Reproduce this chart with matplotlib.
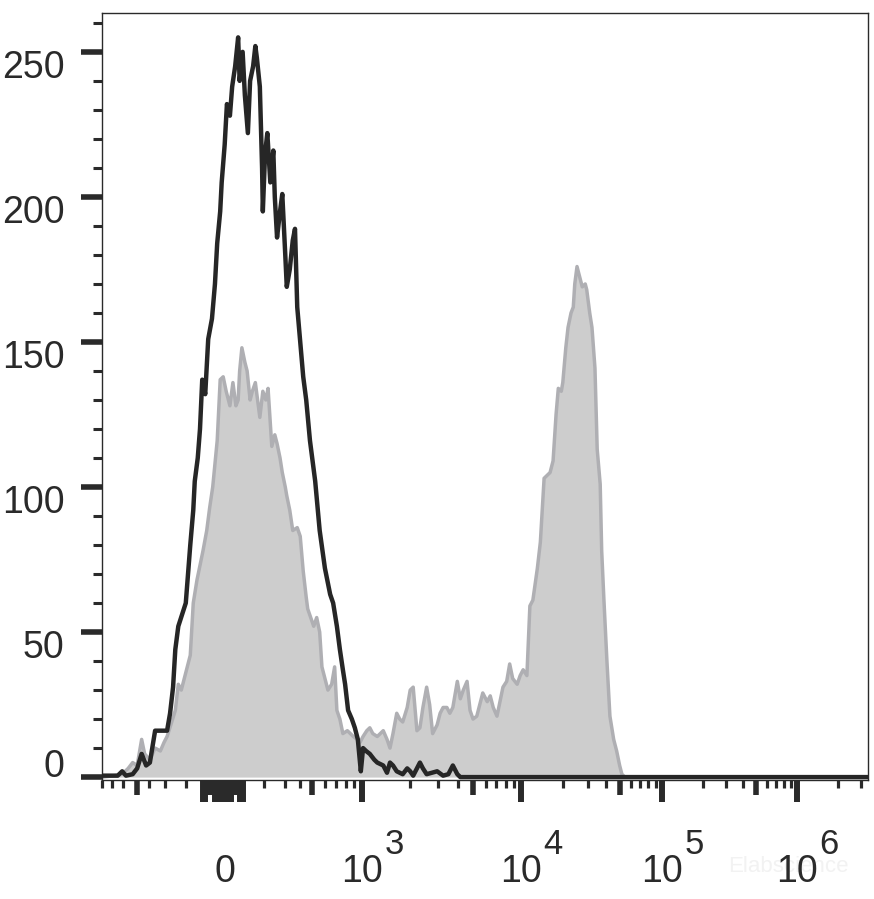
import matplotlib
matplotlib.use('Agg')
import matplotlib.pyplot as plt
import numpy as np

plt.rcParams['font.family'] = ['Liberation Sans', 'DejaVu Sans']

# Histograms: display channel (0..1024 across the axis) and event count
# control (black outline)
ctrl_channel = [0, 11, 21, 27, 32, 41, 47, 53, 59, 64, 71, 82, 87, 91, 95, 98, 102, 107, 112, 118,
                122, 124, 128, 131, 134, 138, 142, 147, 151, 154, 158, 160, 164, 167, 171, 174, 178,
                182, 184, 188, 191, 195, 198, 202, 205, 207, 211, 214, 215, 218, 221, 225, 229, 231,
                234, 238, 241, 245, 247, 251, 255, 258, 261, 265, 269, 273, 278, 285, 291, 298, 305,
                309, 314, 318, 322, 325, 329, 334, 338, 342, 346, 349, 353, 358, 364, 368, 376, 381,
                385, 389, 394, 398, 402, 408, 412, 416, 421, 425, 429, 434, 441, 448, 456, 463, 469,
                475, 479, 1024]
ctrl_count = [0.5, 0.5, 0.5, 2, 0.5, 1, 3, 8, 4, 5, 16, 16, 16, 22, 31, 44, 52, 56, 60, 80,
              92, 102, 110, 120, 137, 132, 151, 158, 170, 184, 195, 205, 218, 232, 228, 238, 245,
              255, 240, 250, 235, 222, 240, 245, 252, 248, 238, 210, 195, 215, 222, 205, 216, 200,
              186, 195, 201, 180, 169, 175, 185, 189, 162, 150, 138, 130, 116, 102, 85, 72, 63,
              60, 52, 44, 37, 32, 23, 20, 17, 13, 2, 10, 9, 8, 6, 5, 4, 1.5,
              5, 4, 2, 1.5, 1, 3, 2, 0.5, 3, 5, 3, 1, 1.5, 2, 0.5, 1, 4,
              1, 0, 0]

# stained sample (grey filled)
stain_channel = [0, 17, 27, 35, 41, 47, 53, 57, 64, 71, 78, 83, 87, 92, 98, 102, 106, 110, 114, 118,
                 122, 127, 135, 140, 144, 148, 154, 158, 162, 166, 171, 175, 179, 182, 184, 187, 191,
                 194, 198, 201, 205, 209, 211, 215, 219, 222, 225, 227, 231, 234, 238, 241, 245, 247,
                 251, 255, 261, 265, 269, 273, 275, 279, 283, 287, 291, 294, 298, 302, 307, 311, 314,
                 318, 322, 328, 332, 336, 341, 345, 349, 354, 358, 362, 368, 372, 376, 381, 385, 389,
                 394, 398, 402, 408, 412, 416, 421, 425, 429, 434, 438, 442, 448, 452, 456, 461, 465,
                 469, 475, 479, 483, 488, 492, 496, 501, 505, 509, 515, 519, 523, 528, 532, 536, 541,
                 545, 549, 555, 559, 563, 568, 572, 576, 582, 586, 591, 595, 599, 603, 607, 610, 614,
                 616, 620, 623, 627, 630, 632, 635, 639, 642, 646, 648, 652, 655, 659, 662, 666, 668,
                 671, 675, 679, 684, 688, 692, 695, 699, 1024]
stain_count = [0, 0.5, 1, 3, 5, 4, 13, 8, 6, 10, 9, 12, 14, 18, 23, 32, 30, 34, 38, 42,
               60, 68, 78, 85, 93, 100, 116, 137, 138, 133, 128, 136, 128, 130, 140, 148, 143,
               140, 130, 133, 136, 128, 124, 133, 130, 134, 122, 114, 118, 115, 110, 105, 100, 97,
               92, 85, 86, 83, 71, 62, 58, 55, 52, 55, 50, 38, 34, 30, 32, 38, 23,
               20, 15, 16, 15, 14, 13, 12, 14, 16, 17, 15, 14, 15, 16, 13, 10, 15,
               22, 20, 19, 24, 30, 31, 16, 17, 24, 31, 25, 15, 18, 22, 24, 24, 22,
               24, 33, 27, 30, 33, 23, 20, 21, 25, 29, 26, 28, 24, 21, 26, 31, 33,
               39, 34, 32, 35, 37, 35, 59, 61, 72, 81, 103, 104, 105, 109, 125, 134, 133,
               136, 148, 155, 160, 162, 170, 176, 172, 169, 170, 168, 160, 155, 141, 113, 101, 78,
               61, 40, 21, 13, 9, 4, 1, 0, 0]

# biexponential display: fluorescence value -> display channel anchors
SCALE_VALUES = [-800, -500, -200, -100, 0, 100, 200, 500, 1e3, 1e4, 1e5, 1e6, 3.36e6]
SCALE_CHANNELS = [0, 46.8, 112.3, 135.0, 164.4, 188.5, 216.6, 280.7, 347.6, 560.1, 748.6, 929.1, 1024]
W = 100.0
U = np.arcsinh(np.array(SCALE_VALUES) / W)


def to_channel(v):
    return np.interp(np.arcsinh(np.asarray(v, dtype=float) / W), U, SCALE_CHANNELS)


def to_value(c):
    return W * np.sinh(np.interp(np.asarray(c, dtype=float), SCALE_CHANNELS, U))


# ticks
X_LONG = [-100, -90, -40, -30, -20, -10, 0, 10, 20, 30, 80, 90, 100, 1e3, 1e4, 1e5, 1e6]
X_MID = [-500, -70, -60, 50, 60, 500, 5e3, 5e4, 5e5]
X_SHORT = [-800, -700, -600, -400, -300, -200, 200, 300, 400, 600, 700, 800, 900,
           2e3, 3e3, 4e3, 6e3, 7e3, 8e3, 9e3,
           2e4, 3e4, 4e4, 6e4, 7e4, 8e4, 9e4,
           2e5, 3e5, 4e5, 6e5, 7e5, 8e5, 9e5,
           2e6, 3e6]
X_LABEL_VALUES = [0, 1e3, 1e4, 1e5, 1e6]
X_LABEL_BASE = ['0', '10', '10', '10', '10']
X_LABEL_EXP = ['', '3', '4', '5', '6']
Y_MAJOR = [0, 50, 100, 150, 200, 250]
Y_MINOR = [10, 20, 30, 40, 60, 70, 80, 90, 110, 120, 130, 140, 160, 170, 180, 190,
           210, 220, 230, 240, 260]

INK = '#2a2a2a'

fig = plt.figure(figsize=(8.74, 8.99), dpi=100)
ax = fig.add_axes([102 / 874, 1 - 780 / 899, 766 / 874, 767 / 899])
ax.set_xscale('function', functions=(to_channel, to_value))
ax.set_xlim(-800, 3.36e6)
ax.set_ylim(-1, 263.4)

stain_x = to_value(stain_channel)
ctrl_x = to_value(ctrl_channel)
ax.fill_between(stain_x, stain_count, color='#cdcdcd', lw=0, zorder=1)
ax.plot(stain_x, stain_count, color='#afafb3', lw=2.5, zorder=2)
ax.plot(ctrl_x, ctrl_count, color='#262626', lw=3.2, zorder=3)

for s in ax.spines.values():
    s.set_linewidth(1.0)
    s.set_color(INK)

ax.set_xticks(X_LONG)
ax.set_xticks(X_SHORT, minor=True)
ax.set_yticks(Y_MAJOR)
ax.set_yticks(Y_MINOR, minor=True)
ax.tick_params(axis='both', which='both', direction='out', color=INK,
               labelleft=False, labelbottom=False)
ax.tick_params(axis='y', which='major', length=15, width=4)
ax.tick_params(axis='y', which='minor', length=6.5, width=2.2)
ax.tick_params(axis='x', which='major', length=15.8, width=4.3)
ax.tick_params(axis='x', which='minor', length=5.8, width=2.3)

# medium-length ticks on a twin axis
ax2 = ax.twiny()
ax2.set_xscale('function', functions=(to_channel, to_value))
ax2.set_xlim(ax.get_xlim())
ax2.xaxis.set_ticks_position('bottom')
ax2.set_xticks(X_MID)
ax2.set_xticks([], minor=True)
ax2.tick_params(axis='x', which='major', direction='out', length=10.8, width=4.0, color=INK,
                labelbottom=False, labeltop=False)
for s in ax2.spines.values():
    s.set_visible(False)

# y labels
for v in Y_MAJOR:
    dy = 0 if v == 0 else -18.7
    ax.annotate(str(v), xy=(0, v), xycoords=('axes fraction', 'data'), xytext=(-27, dy),
                textcoords='offset points', ha='right', va='baseline', fontsize=27, color=INK)

# x labels with large exponents
for v, base, exp in zip(X_LABEL_VALUES, X_LABEL_BASE, X_LABEL_EXP):
    ax.annotate(base, xy=(v, 0), xycoords=('data', 'axes fraction'), xytext=(0, -73.4),
                textcoords='offset points', ha='center', va='baseline', fontsize=27, color=INK)
    if exp:
        ax.annotate(exp, xy=(v, 0), xycoords=('data', 'axes fraction'), xytext=(16.2, -53.3),
                    textcoords='offset points', ha='left', va='baseline', fontsize=25, color=INK)

fig.text(788 / 874, 1 - 866 / 899, 'Elabscience', color='#f2f2f2', fontsize=16,
         ha='center', va='center', zorder=-1)

fig.savefig('out.png', dpi=100)
